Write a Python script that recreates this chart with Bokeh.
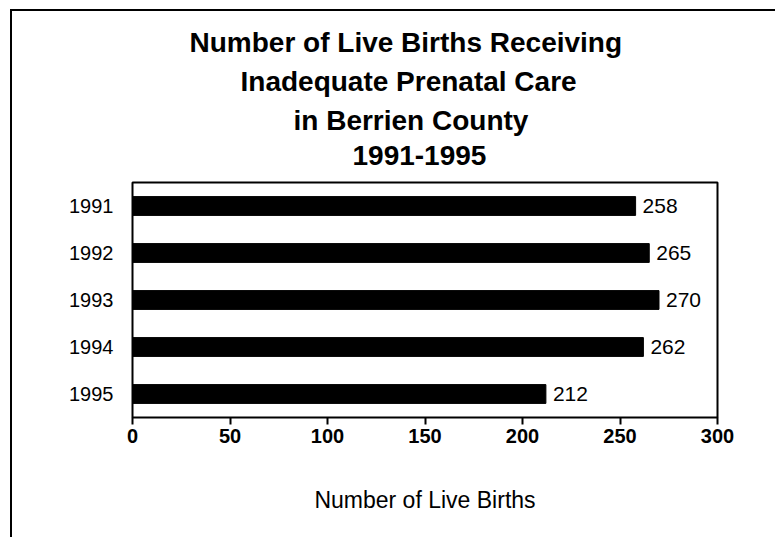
from bokeh.plotting import figure
from bokeh.models import Range1d, FactorRange, Title, ColumnDataSource, FixedTicker
from bokeh.core.properties import value
from bokeh.embed import file_html
from bokeh.resources import INLINE

# ---- data ----
years = ["1991", "1992", "1993", "1994", "1995"]
births = [258, 265, 270, 262, 212]
x_ticks = [0, 50, 100, 150, 200, 250, 300]
title_lines = [
    "Number of Live Births Receiving",
    "Inadequate Prenatal Care",
    "in Berrien County",
    "1991-1995",
]
x_label = "Number of Live Births"

FONT = "Liberation Sans"

src = ColumnDataSource(dict(year=years, births=births, lab=[str(b) for b in births]))

p = figure(
    y_range=FactorRange(factors=years[::-1]),
    x_range=Range1d(0, 300),
    frame_width=585, frame_height=235,
    min_border_left=120, min_border_right=58,
    min_border_top=171, min_border_bottom=120,
    output_backend="svg", toolbar_location=None,
    background_fill_color="white", border_fill_color="white",
)
p.styles = {
    "border-left": "2px solid black",
    "border-top": "2px solid black",
    "margin-left": "10px",
    "margin-top": "9px",
}

p.hbar(y="year", right="births", height=0.4, source=src,
       fill_color="black", line_color="black")
p.text(x="births", y="year", text="lab", source=src, x_offset=7,
       text_baseline="middle", text_align="left",
       text_font=value(FONT), text_font_size="21px", text_color="black")

p.xgrid.visible = False
p.ygrid.visible = False
p.outline_line_color = "black"
p.outline_line_width = 2

# x axis
xa = p.xaxis[0]
xa.ticker = FixedTicker(ticks=x_ticks)
xa.axis_line_color = None
xa.major_tick_in = 0
xa.major_tick_out = 7
xa.major_tick_line_width = 2
xa.minor_tick_line_color = None
xa.major_label_standoff = 4
xa.major_label_text_font = FONT
xa.major_label_text_font_style = "bold"
xa.major_label_text_font_size = "20px"
xa.major_label_text_color = "black"
xa.axis_label = x_label
xa.axis_label_standoff = 41
xa.axis_label_text_font = FONT
xa.axis_label_text_font_style = "normal"
xa.axis_label_text_font_size = "23px"
xa.axis_label_text_color = "black"

# y axis
ya = p.yaxis[0]
ya.axis_line_color = None
ya.major_tick_line_color = None
ya.minor_tick_line_color = None
ya.major_label_standoff = 13
ya.major_label_text_font = FONT
ya.major_label_text_font_size = "20px"
ya.major_label_text_color = "black"

# spacer between the frame and the title block
p.add_layout(Title(text=" ", text_font_size="1px", standoff=10), "above")

# title lines, stacked above the frame (last line added first = nearest the frame)
title_offsets = [57, 108, 161, 220]
title_standoffs = [6, 6, 6, 10]
for txt, off, so in reversed(list(zip(title_lines, title_offsets, title_standoffs))):
    p.add_layout(Title(text=txt, align="left", offset=off, standoff=so,
                       text_font=FONT, text_font_style="bold",
                       text_font_size="28px", text_color="black"), "above")

open("out.html", "w").write(file_html(p, INLINE))
